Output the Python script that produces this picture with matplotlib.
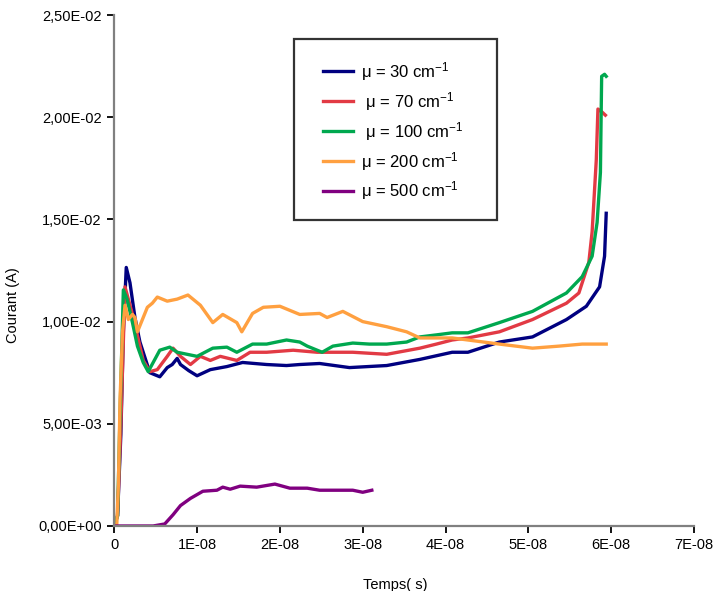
import matplotlib as mpl
mpl.use('Agg')
import matplotlib.pyplot as plt
from matplotlib.patches import Rectangle
import numpy as np

mpl.rcParams['font.family'] = ['Liberation Sans', 'DejaVu Sans']
mpl.rcParams['font.size'] = 10.5
mpl.rcParams['mathtext.fontset'] = 'custom'
mpl.rcParams['mathtext.rm'] = 'Liberation Sans'
mpl.rcParams['mathtext.it'] = 'Liberation Sans:italic'
mpl.rcParams['mathtext.default'] = 'regular'

# time in ns, current in mA
t_30 = [0, 0.4, 0.8, 1.1, 1.45, 1.9, 2.5, 3.1, 4.3, 5.5, 6.4, 7.0, 7.6, 8.0, 9.0, 10.0,
        11.6, 13.6, 15.5, 18.4, 20.8, 22.4, 24.8, 28.4, 32.9, 36.9, 40.8, 42.7, 46.5,
        50.5, 54.6, 57.0, 58.6, 59.2, 59.4]
i_30 = [0, 0.5, 4.5, 9.5, 12.65, 11.9, 10.2, 9.0, 7.5, 7.3, 7.75, 7.9, 8.2, 7.9, 7.6, 7.35,
        7.65, 7.8, 8.0, 7.9, 7.85, 7.9, 7.95, 7.75, 7.85, 8.15, 8.5, 8.5, 9.0,
        9.25, 10.1, 10.75, 11.7, 13.2, 15.3]

t_70 = [0, 0.4, 0.8, 1.3, 2.3, 3.5, 4.3, 5.2, 6.4, 7.1, 8.0, 9.2, 10.4, 11.6, 12.8, 14.8,
        16.4, 18.4, 21.6, 24.5, 28.8, 32.9, 36.9, 38.9, 40.8, 42.7, 46.5, 50.5, 54.6,
        56.1, 57.3, 57.7, 58.2, 58.4, 58.9, 59.3]
i_70 = [0, 0.5, 5.0, 11.7, 10.2, 8.1, 7.55, 7.65, 8.3, 8.7, 8.3, 7.9, 8.3, 8.1, 8.3, 8.1,
        8.5, 8.5, 8.6, 8.5, 8.5, 8.4, 8.7, 8.9, 9.1, 9.2, 9.5, 10.1, 10.9,
        11.4, 12.9, 14.4, 17.9, 20.4, 20.25, 20.1]

t_100 = [0, 0.4, 0.7, 1.1, 1.55, 2.2, 2.8, 3.5, 4.1, 4.7, 5.5, 6.7, 7.6, 8.8, 10.0, 11.9,
         13.6, 14.8, 16.7, 18.4, 20.8, 22.4, 23.3, 25.1, 26.4, 28.8, 30.8, 32.9, 35.3,
         36.9, 38.9, 40.8, 42.7, 46.5, 50.5, 54.6, 56.5, 57.7, 58.3, 58.7, 58.8, 58.85,
         59.2, 59.4]
i_100 = [0, 0.5, 5.5, 11.55, 11.1, 9.95, 8.8, 8.0, 7.55, 8.0, 8.6, 8.75, 8.5, 8.4, 8.3, 8.7,
         8.75, 8.5, 8.9, 8.9, 9.1, 9.0, 8.8, 8.5, 8.8, 8.95, 8.9, 8.9, 9.0,
         9.25, 9.35, 9.45, 9.45, 9.95, 10.5, 11.4, 12.2, 13.2, 14.85, 17.3, 20.5, 22.0,
         22.1, 22.0]

t_200 = [0, 0.3, 0.5, 0.7, 1.0, 1.3, 1.7, 2.2, 2.5, 2.8, 3.4, 4.0, 4.6, 5.2, 5.8, 6.4, 7.6,
         8.9, 10.4, 11.9, 13.1, 14.8, 15.4, 16.7, 18.0, 20.0, 22.4, 24.8, 25.7, 27.6,
         30.0, 32.9, 35.3, 36.9, 40.8, 42.7, 46.5, 50.5, 53.7, 56.5, 59.4]
i_200 = [0, 0, 2.0, 6.2, 9.5, 10.8, 10.1, 10.35, 10.2, 9.5, 10.1, 10.7, 10.9, 11.2, 11.1, 11.0, 11.1,
         11.3, 10.8, 9.95, 10.35, 9.95, 9.5, 10.4, 10.7, 10.75, 10.35, 10.4, 10.2, 10.5,
         10.0, 9.75, 9.5, 9.2, 9.2, 9.1, 8.9, 8.7, 8.8, 8.9, 8.9]

t_500 = [0, 4.7, 6.1, 7.1, 8.0, 9.2, 10.7, 12.4, 13.1, 14.0, 15.2, 17.2, 19.4, 21.2, 23.3,
         24.8, 28.8, 30.0, 31.1]
i_500 = [0, 0, 0.1, 0.55, 1.0, 1.35, 1.7, 1.75, 1.9, 1.8, 1.95, 1.9, 2.05, 1.85, 1.85,
         1.75, 1.75, 1.65, 1.75]

labels = [r'$\mu$ = 30 cm$^{-1}$', r' $\mu$ = 70 cm$^{-1}$', r' $\mu$ = 100 cm$^{-1}$',
          r'$\mu$ = 200 cm$^{-1}$', r'$\mu$ = 500 cm$^{-1}$']
colors = ['#000080', '#E23A44', '#00A84F', '#FFA040', '#800080']

fig = plt.figure(figsize=(7.14, 5.91), dpi=100)
ax = fig.add_axes([0.160, 0.110, 0.812, 0.8646])

series = [(t_30, i_30), (t_70, i_70), (t_100, i_100), (t_200, i_200), (t_500, i_500)]
for (t, i), c, lab in zip(series, colors, labels):
    ax.plot(np.array(t) * 1e-9, np.array(i) * 1e-3, color=c, lw=2.4, label=lab)

ax.set_xlim(0, 7e-8)
ax.set_ylim(0, 0.025)
ax.set_xticks([i * 1e-8 for i in range(8)])
ax.set_xticklabels(['0'] + ['%dE-08' % i for i in range(1, 8)])
yt = [0, 0.005, 0.01, 0.015, 0.02, 0.025]
ax.set_yticks(yt)
ax.set_yticklabels([('%.2E' % v).replace('.', ',') for v in yt])

for s in ['top', 'right']:
    ax.spines[s].set_visible(False)
for s in ['left', 'bottom']:
    ax.spines[s].set_color('#808080')
    ax.spines[s].set_linewidth(1.6)
ax.tick_params(direction='out', length=5, width=1.3, color='black', pad=4)

ax.set_xlabel('Temps( s)')
ax.set_ylabel('Courant (A)')
ax.xaxis.set_label_coords(0.484, -0.102)
ax.yaxis.set_label_coords(-0.162, 0.432)

# legend box
ax.add_patch(Rectangle((0.310, 0.599), 0.350, 0.354, transform=ax.transAxes,
                       fill=False, edgecolor='#333333', lw=1.6, zorder=5))
ax.legend(loc='upper left', bbox_to_anchor=(0.360, 0.912), frameon=False,
          fontsize=12, handlelength=1.8, handletextpad=0.5, labelspacing=0.42,
          borderaxespad=0, borderpad=0)

fig.savefig('out.png', dpi=100)
